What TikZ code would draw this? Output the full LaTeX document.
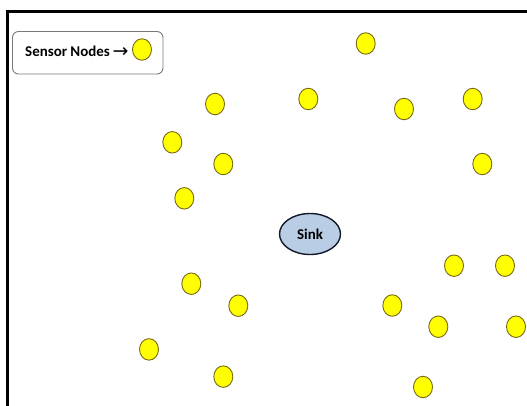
\documentclass[tikz,border=0pt]{standalone}
\usepackage{fontspec}
\setmainfont{Carlito}
\newfontfamily\arrowfont{DejaVu Sans}
\usetikzlibrary{shapes.geometric}
\definecolor{nodeyellow}{RGB}{255,255,0}
\definecolor{nodeedge}{RGB}{120,105,20}
\definecolor{sinkblue}{RGB}{185,205,229}
\definecolor{sinkedge}{RGB}{20,25,40}
\definecolor{legendgray}{RGB}{120,120,120}
\tikzset{
  sensor/.style={ellipse, draw=nodeedge, fill=nodeyellow, line width=0.9bp,
    minimum width=19bp, minimum height=21.5bp, inner sep=0pt},
  sinknode/.style={ellipse, draw=sinkedge, fill=sinkblue, line width=1.4bp,
    minimum width=61bp, minimum height=41bp, inner sep=0pt,
    font=\fontsize{15}{18}\selectfont\bfseries},
  legendbox/.style={draw=legendgray, line width=0.9bp, rounded corners=6bp},
  frameline/.style={draw=black, line width=2.2bp}
}
\begin{document}
\begin{tikzpicture}[x=1bp,y=-1bp]
\useasboundingbox (0,0) rectangle (527,405);
% frame (open to right and bottom beyond the picture)
\draw[frameline] (7.5,420) -- (7.5,11.5) -- (540,11.5);
% legend
\draw[legendbox] (12.5,31.5) rectangle (163,74);
\node[anchor=base west, inner sep=0pt, font=\fontsize{15}{18}\selectfont\bfseries] (legtext) at (25,56.5) {Sensor Nodes};
\node[anchor=base west, inner sep=0pt, font=\fontsize{19}{22}\selectfont\arrowfont] (legarrow) at (112.5,57) {→};
\node[sensor] (leg) at (142,49.5) {};
% sink
\node[sinknode] (sink) at (310,234) {Sink};
% sensor nodes
\node[sensor] (s1) at (365.7,43.5) {};
\node[sensor] (s2) at (215,104) {};
\node[sensor] (s3) at (308.3,99) {};
\node[sensor] (s4) at (404,109) {};
\node[sensor] (s5) at (472.7,99) {};
\node[sensor] (s6) at (172.3,142.3) {};
\node[sensor] (s7) at (223.3,164) {};
\node[sensor] (s8) at (482.3,164) {};
\node[sensor] (s9) at (184.3,198.3) {};
\node[sensor] (s10) at (454,265.7) {};
\node[sensor] (s11) at (505,265.7) {};
\node[sensor] (s12) at (191.3,283.7) {};
\node[sensor] (s13) at (238.3,305.7) {};
\node[sensor] (s14) at (392.3,305.5) {};
\node[sensor] (s15) at (438.3,326.7) {};
\node[sensor] (s16) at (516,326.7) {};
\node[sensor] (s17) at (149,349.4) {};
\node[sensor] (s18) at (223.3,376.6) {};
\node[sensor] (s19) at (423,387) {};
\end{tikzpicture}
\end{document}
